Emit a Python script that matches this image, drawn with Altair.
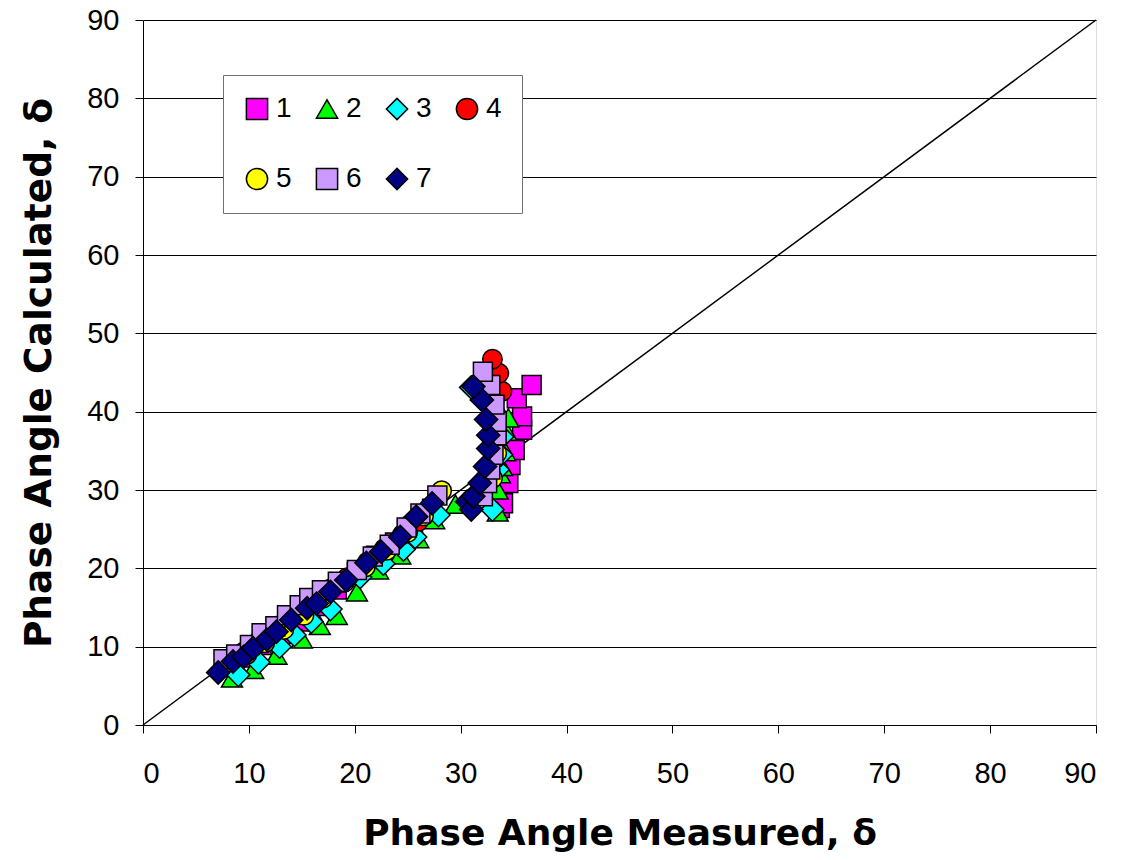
import altair as alt
import pandas as pd

# ---- data ----
series_names = ["1", "2", "3", "4", "5", "6", "7"]

s1_x = [9.5, 11.2, 13.0, 14.8, 16.3, 18.3, 20.2, 22.0, 23.8, 25.5, 27.3,
        33.7, 34.0, 34.5, 34.7, 35.1, 35.8, 35.8, 35.3, 36.7]
s1_y = [8.6, 10.2, 11.6, 13.2, 15.2, 17.3, 19.5, 21.6, 23.3, 25.3, 27.6,
        27.7, 28.3, 30.9, 33.2, 35.1, 37.7, 39.4, 41.7, 43.4]

s2_x = [8.4, 10.4, 12.6, 15.0, 16.7, 18.3, 20.2, 22.2, 24.3, 26.0, 27.5, 29.5,
        33.5, 33.5, 33.7, 33.9, 34.2, 34.3, 34.5]
s2_y = [6.0, 7.1, 8.9, 11.0, 12.7, 14.0, 17.0, 19.8, 21.7, 23.8, 26.2, 28.2,
        27.2, 30.0, 32.1, 33.0, 34.9, 37.5, 39.2]

s3_x = [9.0, 10.9, 12.9, 14.3, 15.9, 17.7, 20.5, 22.7, 24.6, 25.7, 27.9,
        33.0, 33.5, 33.8, 33.9, 31.0]
s3_y = [6.4, 8.0, 10.0, 11.5, 13.2, 14.8, 18.9, 20.6, 22.4, 24.0, 26.8,
        27.5, 32.6, 34.5, 36.8, 43.1]

s4_x = [9.5, 11.0, 12.6, 14.2, 16.0, 17.6, 19.3, 21.2, 22.8, 24.5, 26.0,
        33.2, 33.4, 33.9, 33.6, 33.0]
s4_y = [9.3, 10.8, 12.6, 14.0, 15.9, 17.3, 18.8, 20.8, 22.5, 24.3, 26.0,
        36.8, 39.5, 42.6, 44.9, 46.7]

s5_x = [9.8, 11.5, 13.3, 15.2, 17.0, 19.0, 21.0, 23.0, 25.0, 26.5, 28.2,
        32.0, 33.0, 33.4]
s5_y = [9.0, 10.5, 12.2, 14.0, 16.2, 18.2, 20.2, 22.3, 24.6, 26.7, 29.9,
        29.6, 31.5, 34.7]

s6_x = [7.6, 8.8, 10.1, 11.2, 12.5, 13.6, 14.8, 15.7, 16.9, 18.4, 20.2, 21.7,
        23.3, 24.9, 26.2, 27.8,
        32.1, 32.5, 32.8, 33.1, 33.4, 33.4, 33.2, 32.8, 32.1]
s6_y = [8.4, 9.0, 10.2, 11.7, 12.6, 14.0, 15.3, 16.2, 17.2, 18.3, 19.8, 21.5,
        23.0, 25.2, 27.0, 29.3,
        29.2, 30.9, 32.6, 34.5, 37.0, 38.7, 40.9, 43.4, 45.1]

s7_x = [7.1, 8.5, 9.5, 10.4, 11.7, 12.6, 14.0, 15.5, 16.4, 17.7, 19.2, 21.1,
        22.5, 24.3, 25.8, 27.3,
        30.6, 31.0, 31.2, 31.8, 32.3, 32.6, 32.6, 32.4, 32.0, 31.2]
s7_y = [6.7, 8.1, 8.7, 9.8, 10.9, 11.9, 13.4, 14.9, 15.5, 17.0, 18.5, 20.7,
        22.1, 24.0, 26.6, 28.3,
        28.5, 27.5, 29.2, 30.9, 33.0, 35.3, 37.0, 39.0, 41.5, 43.2]

diag_x = [0, 90]
diag_y = [0, 90]

axis_ticks = [0, 10, 20, 30, 40, 50, 60, 70, 80, 90]

# ---- styling (not data) ----
fill_colors = ["#FF00FF", "#00FF00", "#00FFFF", "#FF0000", "#FFFF00", "#CC99FF", "#000080"]
stroke_colors = ["black"] * 7
shapes = ["square", "triangle-up", "diamond", "circle", "circle", "square", "diamond"]
sizes = [360, 440, 540, 380, 380, 360, 540]

xs = [s1_x, s2_x, s3_x, s4_x, s5_x, s6_x, s7_x]
ys = [s1_y, s2_y, s3_y, s4_y, s5_y, s6_y, s7_y]

FONT = "Liberation Sans"
TFONT = "DejaVu Sans"

xscale = alt.Scale(domain=[0, 90], nice=False, zero=False)
yscale = alt.Scale(domain=[0, 90], nice=False, zero=False)

x_axis = alt.Axis(values=axis_ticks, grid=False, tickSize=8, tickColor="black",
                  domainColor="black", labelFontSize=29, labelFont=FONT,
                  labelColor="black", labelPadding=26,
                  title="Phase Angle Measured, δ", titleFont=TFONT,
                  titleFontSize=36, titleFontWeight="bold", titleColor="black",
                  titlePadding=28)
y_axis = alt.Axis(values=axis_ticks, grid=True, gridColor="black", gridWidth=1,
                  tickSize=8, tickColor="black", domainColor="black",
                  labelFontSize=29, labelFont=FONT, labelColor="black",
                  labelPadding=16,
                  title="Phase Angle Calculated, δ", titleFont=TFONT,
                  titleFontSize=37.5, titleFontWeight="bold", titleColor="black",
                  titlePadding=28)

diag = alt.Chart(pd.DataFrame({"x": diag_x, "y": diag_y})).mark_line(
    color="black", strokeWidth=1.5
).encode(
    x=alt.X("x:Q", scale=xscale, axis=x_axis),
    y=alt.Y("y:Q", scale=yscale, axis=y_axis),
)

legend = alt.Legend(title=None, orient="none", legendX=80, legendY=55,
                    columns=4, direction="horizontal",
                    fillColor="white", strokeColor="#707070",
                    padding=20, symbolSize=450, symbolStrokeWidth=1.5,
                    labelFontSize=28, labelFont=FONT,
                    labelColor="black", columnPadding=21, rowPadding=42,
                    labelOffset=5, cornerRadius=0)

layers = [diag]
for i, name in enumerate(series_names):
    df = pd.DataFrame({"x": xs[i], "y": ys[i], "series": name})
    layers.append(
        alt.Chart(df).mark_point(filled=True, opacity=1, size=sizes[i],
                                 strokeWidth=1.5).encode(
            x=alt.X("x:Q", scale=xscale, axis=x_axis),
            y=alt.Y("y:Q", scale=yscale, axis=y_axis),
            fill=alt.Fill("series:N",
                          scale=alt.Scale(domain=series_names, range=fill_colors),
                          legend=legend),
            shape=alt.Shape("series:N",
                            scale=alt.Scale(domain=series_names, range=shapes),
                            legend=legend),
            stroke=alt.Stroke("series:N",
                              scale=alt.Scale(domain=series_names, range=stroke_colors),
                              legend=legend),
        )
    )

chart = alt.layer(*layers).properties(
    width=953, height=705,
    autosize=alt.AutoSizeParams(type="none"),
    padding={"left": 143, "top": 20, "right": 33, "bottom": 135},
).configure_view(stroke="black", strokeWidth=1).configure(background="white")

chart.save("out.html", embed_options={"renderer": "svg", "actions": False})
